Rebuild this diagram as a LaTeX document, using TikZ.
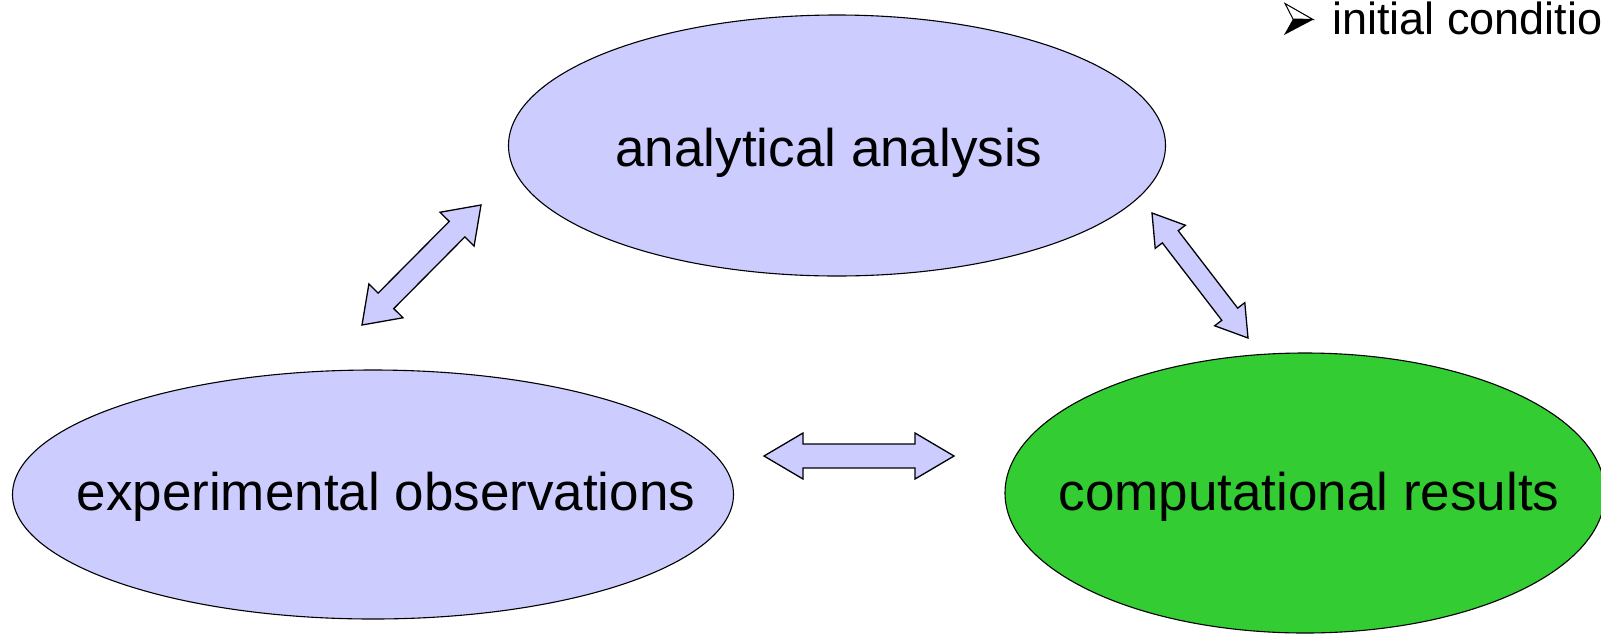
\documentclass[tikz,border=0pt]{standalone}
\usepackage{fontspec}
\setmainfont{Liberation Sans}
\usetikzlibrary{shapes.geometric,calc}
\definecolor{lav}{HTML}{CCCCFF}
\definecolor{grn}{HTML}{33CC33}
% #1,#2 end coordinates, #3 head length, #4 head half width, #5 shaft half width
\newcommand{\blockarrow}[5]{%
  \coordinate (h1) at ($(#1)!#3!(#2)$);
  \coordinate (h2) at ($(#2)!#3!(#1)$);
  \draw[barrow] (#1) -- ($(h1)!#4!90:(#2)$) -- ($(h1)!#5!90:(#2)$)
    -- ($(h2)!#5!-90:(#1)$) -- ($(h2)!#4!-90:(#1)$) -- (#2)
    -- ($(h2)!#4!90:(#1)$) -- ($(h2)!#5!90:(#1)$)
    -- ($(h1)!#5!-90:(#2)$) -- ($(h1)!#4!-90:(#2)$) -- cycle;
}
\begin{document}
\begin{tikzpicture}[x=1pt,y=-1pt,
  ell/.style={ellipse, draw=black, line width=1.1pt, inner sep=0pt},
  lbl/.style={inner sep=0pt, anchor=base, font=\fontsize{53}{60}\selectfont},
  barrow/.style={draw=black, fill=lav, line width=1.3pt, line join=miter}]
\useasboundingbox (0,0) rectangle (1601,633);
\clip (0,0) rectangle (1601,633);
\fill[white] (0,0) rectangle (1601,633);

\node[ell, fill=lav, minimum width=657, minimum height=261] (ana) at (837,145.5) {};
\node[ell, fill=lav, minimum width=721, minimum height=249] (exp) at (373,494.5) {};
\node[ell, fill=grn, minimum width=600, minimum height=280] (comp) at (1305,493) {};

\node[lbl] (anaT) at (829,166) {analytical analysis};
\node[lbl] (expT) at (386,510) {experimental observations};
\node[lbl] (compT) at (1309,510) {computational results};

% bullet arrowhead
\draw[line width=1pt, line join=miter, fill=white] (1285,3.5) -- (1313,19.5) -- (1293,19) -- cycle;
\fill[black] (1293,19) -- (1313.5,19.5) -- (1284,35) -- cycle;
\node[anchor=base west, inner sep=0pt, font=\fontsize{45}{50}\selectfont] (ic) at (1332,34) {initial conditions};

\coordinate (a1) at (764,456);
\coordinate (a2) at (954,456);
\blockarrow{a1}{a2}{39pt}{23pt}{12pt}
\coordinate (b1) at (362,325);
\coordinate (b2) at (481,205);
\blockarrow{b1}{b2}{34pt}{24pt}{11pt}
\coordinate (c1) at (1152,213);
\coordinate (c2) at (1248,338);
\blockarrow{c1}{c2}{30pt}{19pt}{10pt}
\end{tikzpicture}
\end{document}
